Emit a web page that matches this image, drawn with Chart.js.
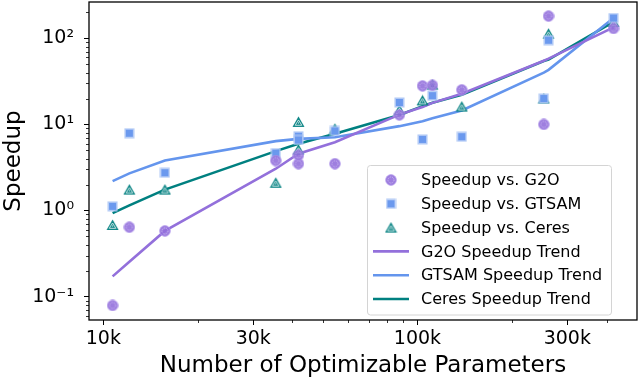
<!DOCTYPE html>
<html>
<head>
<meta charset="utf-8">
<script src="https://cdn.jsdelivr.net/npm/chart.js@4.4.1/dist/chart.umd.min.js"></script>
<style>
  html, body { margin: 0; padding: 0; background: #fff; }
  #wrap { width: 640px; height: 380px; }
</style>
</head>
<body>
<div id="wrap"><canvas id="speedup-chart" width="640" height="380"></canvas></div>
<script>
// one entry per benchmark problem
const params = [10700, 12100, 15700, 35400, 41800, 41800, 54600, 87600, 103800, 111600, 138400, 252500, 261400, 421000];
const g2oSpeedup = [0.079, 0.64, 0.58, 3.8, 3.5, 4.4, 3.5, 12.9, 28, 28.5, 25.2, 10, 181, 130];
const gtsamSpeedup = [1.12, 7.9, 2.75, 4.65, 7.3, 6.6, 8.4, 18, 6.7, 21.6, 7.2, 20, 95, 172];
const ceresSpeedup = [0.68, 1.75, 1.75, 2.1, 10.7, 5.1, 8.9, 14.7, 19, 29, 16.1, 20, 113, 155];

// fitted trends
const trendParams = [10700, 12100, 15700, 35400, 41800, 54600, 87600, 103800, 111600, 138400, 252500, 261400, 421000];
const g2oTrend = [0.172, 0.255, 0.58, 3.06, 4.57, 6.2, 13.0, 15.9, 17.8, 22.7, 55, 58, 134];
const gtsamTrend = [2.2, 2.7, 3.82, 6.4, 6.8, 7.1, 9.55, 10.9, 11.8, 14.5, 40, 43, 172];
const ceresTrend = [0.935, 1.15, 1.75, 4.9, 5.97, 7.8, 12.9, 16.3, 17.8, 22.1, 54.5, 56.6, 155];

const xTickValues = [1e4, 3e4, 1e5, 3e5];
const xTickLabels = ['10k', '30k', '100k', '300k'];
const yTickValues = [0.1, 1, 10, 100];
const yTickLabels = ['10⁻¹', '10⁰', '10¹', '10²'];

const PURPLE = '#9370DB';
const BLUE = '#6495ED';
const TEAL = '#008080';
const FONT = "'DejaVu Sans', sans-serif";

Chart.defaults.font.family = FONT;
Chart.defaults.color = '#000';

// hatched markers, roughly like the matplotlib ones
function circleMarker() {
    const c = document.createElement('canvas');
    c.width = 12; c.height = 12;
    const g = c.getContext('2d');
    g.globalAlpha = 0.9;
    g.beginPath(); g.arc(6, 6, 5.4, 0, Math.PI * 2);
    g.fillStyle = PURPLE; g.fill();
    g.strokeStyle = '#b9a3ee'; g.lineWidth = 0.8; g.stroke();
    g.setLineDash([1, 1.1]);
    g.beginPath(); g.arc(6, 6, 3, 0, Math.PI * 2);
    g.strokeStyle = '#d6c8f6'; g.lineWidth = 0.9; g.stroke();
    return c;
}
function squareMarker() {
    const c = document.createElement('canvas');
    c.width = 11; c.height = 11;
    const g = c.getContext('2d');
    g.globalAlpha = 0.9;
    g.fillStyle = '#a9c3f4'; g.fillRect(0.5, 0.5, 10, 10);
    g.fillStyle = BLUE; g.fillRect(2, 2, 7, 7);
    return c;
}
function triangleMarker() {
    const c = document.createElement('canvas');
    c.width = 13; c.height = 12;
    const g = c.getContext('2d');
    g.globalAlpha = 0.95;
    g.beginPath(); g.moveTo(6.5, 0.5); g.lineTo(12.5, 11); g.lineTo(0.5, 11); g.closePath();
    g.fillStyle = TEAL; g.fill();
    g.beginPath(); g.moveTo(6.5, 4); g.lineTo(9.8, 9.3); g.lineTo(3.2, 9.3); g.closePath();
    g.strokeStyle = '#e6f2f2'; g.lineWidth = 0.9; g.stroke();
    g.fillStyle = '#ffffff';
    g.fillRect(6, 6.5, 1, 1);
    return c;
}

const circleImg = circleMarker();
const squareImg = squareMarker();
const triangleImg = triangleMarker();

const toPoints = (xs, ys) => xs.map((x, i) => ({x: x, y: ys[i]}));

const legendItems = [
    {label: 'Speedup vs. G2O', img: circleImg},
    {label: 'Speedup vs. GTSAM', img: squareImg},
    {label: 'Speedup vs. Ceres', img: triangleImg},
    {label: 'G2O Speedup Trend', line: PURPLE},
    {label: 'GTSAM Speedup Trend', line: BLUE},
    {label: 'Ceres Speedup Trend', line: TEAL}
];

function minorTicks(lo, hi, majors) {
    const out = [];
    for (let e = Math.floor(Math.log10(lo)); e <= Math.ceil(Math.log10(hi)); e++) {
        for (let m = 1; m < 10; m++) {
            const v = m * Math.pow(10, e);
            if (v > lo && v < hi && majors.indexOf(v) === -1) out.push(v);
        }
    }
    return out;
}

const framePlugin = {
    id: 'frame',
    afterDraw(chart) {
        const ctx = chart.ctx;
        const a = chart.chartArea;
        const xs = chart.scales.x, ys = chart.scales.y;
        ctx.save();
        // minor ticks
        ctx.strokeStyle = '#000';
        ctx.lineWidth = 0.8;
        ctx.beginPath();
        minorTicks(xs.min, xs.max, [1e4, 3e4, 1e5, 3e5]).forEach(v => {
            const px = Math.round(xs.getPixelForValue(v)) + 0.5;
            ctx.moveTo(px, a.bottom); ctx.lineTo(px, a.bottom + 3);
        });
        minorTicks(ys.min, ys.max, [0.1, 1, 10, 100]).forEach(v => {
            const py = Math.round(ys.getPixelForValue(v)) + 0.5;
            ctx.moveTo(a.left, py); ctx.lineTo(a.left - 3, py);
        });
        ctx.stroke();
        // spines
        ctx.lineWidth = 1.3;
        ctx.strokeRect(a.left, a.top, a.right - a.left, a.bottom - a.top);

        // legend
        const bx = 367.5, by = 165.5, bw = 244, bh = 149.5;
        ctx.beginPath();
        ctx.roundRect(bx, by, bw, bh, 3);
        ctx.fillStyle = 'rgba(255,255,255,0.85)';
        ctx.fill();
        ctx.strokeStyle = '#d4d4d4';
        ctx.lineWidth = 1;
        ctx.stroke();
        ctx.font = '16px ' + FONT;
        ctx.textBaseline = 'middle';
        ctx.textAlign = 'left';
        legendItems.forEach((it, i) => {
            const cy = 180 + i * 23.8;
            if (it.img) {
                ctx.drawImage(it.img, 391 - it.img.width / 2, cy - it.img.height / 2);
            } else {
                ctx.strokeStyle = it.line;
                ctx.lineWidth = 2.6;
                ctx.beginPath(); ctx.moveTo(373, cy); ctx.lineTo(409, cy); ctx.stroke();
            }
            ctx.fillStyle = '#000';
            ctx.fillText(it.label, 421, cy + 1);
        });
        ctx.restore();
    }
};

function trendSet(label, ys, color) {
    return {
        type: 'line', label: label, data: toPoints(trendParams, ys),
        borderColor: color, backgroundColor: color, borderWidth: 2.6,
        pointRadius: 0, tension: 0, order: 2
    };
}
function scatterSet(label, ys, img) {
    return {
        type: 'scatter', label: label, data: toPoints(params, ys),
        pointStyle: img, pointRadius: 6, order: 1
    };
}

new Chart(document.getElementById('speedup-chart'), {
    data: {
        datasets: [
            trendSet('G2O Speedup Trend', g2oTrend, PURPLE),
            trendSet('GTSAM Speedup Trend', gtsamTrend, BLUE),
            trendSet('Ceres Speedup Trend', ceresTrend, TEAL),
            scatterSet('Speedup vs. G2O', g2oSpeedup, circleImg),
            scatterSet('Speedup vs. GTSAM', gtsamSpeedup, squareImg),
            scatterSet('Speedup vs. Ceres', ceresSpeedup, triangleImg)
        ]
    },
    options: {
        responsive: false,
        animation: false,
        devicePixelRatio: 1,
        layout: {autoPadding: false, padding: {top: 2, right: 3, left: 0, bottom: 0}},
        plugins: {legend: {display: false}, tooltip: {enabled: false}},
        scales: {
            x: {
                type: 'logarithmic', min: 9000, max: 500000,
                afterFit: s => { s.height = 60; s.paddingLeft = 0; s.paddingRight = 0; },
                afterBuildTicks: s => { s.ticks = xTickValues.map(v => ({value: v})); },
                ticks: {
                    autoSkip: false, maxRotation: 0, padding: 3,
                    font: {size: 19},
                    callback: v => xTickLabels[xTickValues.indexOf(v)]
                },
                grid: {drawOnChartArea: false, tickLength: 5, color: '#000', tickWidth: 1},
                border: {display: false},
                title: {display: true, text: 'Number of Optimizable Parameters', font: {size: 23}, padding: 0}
            },
            y: {
                type: 'logarithmic', min: 0.0536, max: 264,
                afterFit: s => { s.width = 89; s.paddingTop = 0; s.paddingBottom = 0; },
                afterBuildTicks: s => { s.ticks = yTickValues.map(v => ({value: v})); },
                ticks: {
                    autoSkip: false, padding: 10,
                    font: {size: 19},
                    callback: v => yTickLabels[yTickValues.indexOf(v)]
                },
                grid: {drawOnChartArea: false, tickLength: 5, color: '#000', tickWidth: 1},
                border: {display: false},
                title: {display: true, text: 'Speedup', font: {size: 23}, padding: 0}
            }
        }
    },
    plugins: [framePlugin]
});
</script>
</body>
</html>
